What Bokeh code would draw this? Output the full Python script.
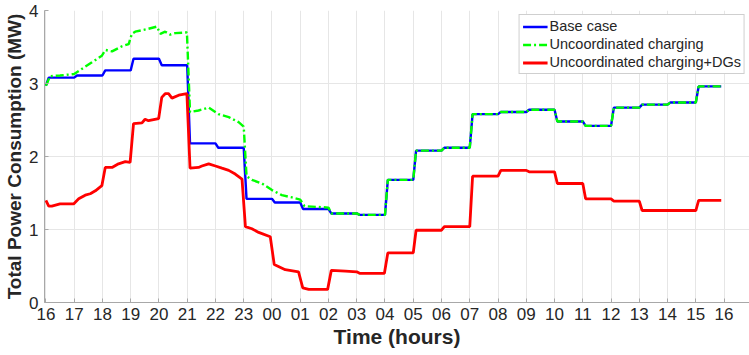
from bokeh.plotting import figure
from bokeh.models import Range1d, FixedTicker, Legend, LegendItem
from bokeh.embed import file_html
from bokeh.resources import INLINE

# hours elapsed since 16:00
tick_positions = list(range(0, 25))
tick_labels = ["16", "17", "18", "19", "20", "21", "22", "23", "00", "01", "02", "03",
               "04", "05", "06", "07", "08", "09", "10", "11", "12", "13", "14", "15", "16"]

base_t = [0, 0.1, 1.0, 1.1, 2.0, 2.1, 3.0, 3.1, 4.0, 4.1, 5.0, 5.1, 6.0, 6.1, 7.0, 7.1,
          8.0, 8.1, 9.0, 9.1, 10.0, 10.1, 11.0, 11.1, 12.0, 12.1, 13.0, 13.1, 14.0, 14.1,
          15.0, 15.1, 16.0, 16.1, 17.0, 17.1, 18.0, 18.1, 19.0, 19.1, 20.0, 20.1, 21.0,
          21.1, 22.0, 22.1, 23.0, 23.1, 23.9]
base_v = [2.97, 3.08, 3.08, 3.11, 3.11, 3.18, 3.18, 3.34, 3.34, 3.25, 3.25, 2.18, 2.18,
          2.12, 2.12, 1.42, 1.42, 1.37, 1.37, 1.28, 1.28, 1.22, 1.22, 1.20, 1.20, 1.68,
          1.68, 2.08, 2.08, 2.12, 2.12, 2.58, 2.58, 2.61, 2.61, 2.64, 2.64, 2.48, 2.48,
          2.42, 2.42, 2.67, 2.67, 2.71, 2.71, 2.74, 2.74, 2.96, 2.96]

unc_t = [0, 0.15, 0.5, 1.0, 1.27, 1.63, 1.98, 2.1, 2.34, 2.69, 2.93, 3.04, 3.16, 3.63,
         3.93, 4.05, 4.22, 4.4, 4.58, 4.99, 5.1, 5.4, 5.76, 6.11, 6.47, 6.82, 7.0, 7.1,
         7.29, 7.65, 8.0, 8.35, 8.71, 9.0, 9.15, 10.0, 10.1, 11.0, 11.1, 12.0, 12.1,
         13.0, 13.1, 14.0, 14.1, 15.0, 15.1, 16.0, 16.1, 17.0, 17.1, 18.0, 18.1, 19.0,
         19.1, 20.0, 20.1, 21.0, 21.1, 22.0, 22.1, 23.0, 23.1, 23.9]
unc_v = [2.97, 3.10, 3.11, 3.13, 3.20, 3.29, 3.38, 3.46, 3.44, 3.51, 3.54, 3.68, 3.71,
         3.75, 3.78, 3.68, 3.71, 3.67, 3.69, 3.70, 2.61, 2.63, 2.67, 2.58, 2.54, 2.47,
         2.41, 1.73, 1.68, 1.63, 1.54, 1.47, 1.44, 1.41, 1.32, 1.30, 1.22, 1.22, 1.20,
         1.20, 1.68, 1.68, 2.08, 2.08, 2.12, 2.12, 2.58, 2.58, 2.61, 2.61, 2.64, 2.64,
         2.48, 2.48, 2.42, 2.42, 2.67, 2.67, 2.71, 2.71, 2.74, 2.74, 2.96, 2.96]

dg_t = [0, 0.1, 0.21, 0.5, 0.98, 1.16, 1.39, 1.57, 1.75, 1.98, 2.1, 2.34, 2.57, 2.81,
        2.98, 3.1, 3.4, 3.51, 3.63, 3.99, 4.1, 4.22, 4.34, 4.46, 4.7, 4.99, 5.1, 5.4,
        5.52, 5.76, 6.0, 6.23, 6.47, 6.7, 6.94, 7.06, 7.29, 7.53, 7.94, 8.08, 8.47, 8.94,
        9.09, 9.3, 9.97, 10.1, 10.6, 11.0, 11.1, 11.98, 12.1, 13.0, 13.1, 14.0, 14.1,
        15.0, 15.1, 16.0, 16.1, 17.0, 17.1, 18.0, 18.1, 19.0, 19.1, 20.0, 20.1, 21.0,
        21.1, 23.0, 23.1, 23.9]
dg_v = [1.40, 1.32, 1.32, 1.35, 1.35, 1.42, 1.47, 1.49, 1.53, 1.60, 1.85, 1.85, 1.90,
        1.93, 1.92, 2.45, 2.46, 2.51, 2.49, 2.52, 2.81, 2.86, 2.86, 2.80, 2.84, 2.86,
        1.84, 1.85, 1.87, 1.90, 1.87, 1.84, 1.81, 1.76, 1.69, 1.04, 1.01, 0.96, 0.90,
        0.52, 0.45, 0.42, 0.20, 0.18, 0.18, 0.44, 0.43, 0.42, 0.40, 0.40, 0.68, 0.68,
        0.99, 0.99, 1.04, 1.04, 1.73, 1.73, 1.81, 1.81, 1.79, 1.79, 1.63, 1.63, 1.42,
        1.42, 1.39, 1.39, 1.26, 1.26, 1.40, 1.40]

FONT = "Liberation Sans"

p = figure(width=749, height=355, output_backend="svg", toolbar_location=None,
           x_range=Range1d(-0.05, 24.9), y_range=Range1d(0, 4),
           min_border_left=44, min_border_right=0, min_border_top=10, min_border_bottom=53)
p.outline_line_color = None
p.background_fill_color = "white"

r_base = p.line(base_t, base_v, line_color="#0000ff", line_width=2.4)
r_unc = p.line(unc_t, unc_v, line_color="#00ff00", line_width=2.4, line_dash="8 3 2 3")
r_dg = p.line(dg_t, dg_v, line_color="#ff0000", line_width=2.8)

for ax in (p.xaxis[0], p.yaxis[0]):
    ax.axis_line_color = "#a8a8a8"
    ax.major_tick_line_color = "#a8a8a8"
    ax.major_tick_in = 4
    ax.major_tick_out = 0
    ax.minor_tick_line_color = None
    ax.major_label_text_font = FONT
    ax.major_label_text_font_size = "17px"
    ax.major_label_text_color = "#262626"
    ax.axis_label_text_font = FONT
    ax.axis_label_text_font_style = "bold"
    ax.axis_label_text_color = "#262626"

p.xaxis.ticker = FixedTicker(ticks=tick_positions)
p.xaxis.major_label_overrides = {t: l for t, l in zip(tick_positions, tick_labels)}
p.xaxis.axis_label = "Time (hours)"
p.xaxis.axis_label_text_font_size = "21px"
p.xaxis.major_label_standoff = 5
p.xaxis.axis_label_standoff = 2

p.yaxis.ticker = FixedTicker(ticks=[0, 1, 2, 3, 4])
p.yaxis.axis_label = "Total Power Consumption (MW)"
p.yaxis.axis_label_text_font_size = "19px"
p.yaxis.major_label_standoff = 6
p.yaxis.axis_label_standoff = 1

p.xgrid.grid_line_color = "#e6e6e6"
p.ygrid.grid_line_color = "#e6e6e6"
p.xgrid.ticker = FixedTicker(ticks=tick_positions)
p.ygrid.ticker = FixedTicker(ticks=[0, 1, 2, 3, 4])

legend = Legend(items=[
    LegendItem(label="Base case", renderers=[r_base]),
    LegendItem(label="Uncoordinated charging", renderers=[r_unc]),
    LegendItem(label="Uncoordinated charging+DGs", renderers=[r_dg]),
], location="top_right")
legend.label_text_font = FONT
legend.label_text_font_size = "14.5px"
legend.label_text_color = "#262626"
legend.label_height = 15
legend.glyph_height = 15
legend.glyph_width = 25
legend.label_standoff = 2
legend.spacing = 2
legend.padding = 3
legend.margin = 4
legend.border_line_color = "#a0a0a0"
legend.border_line_width = 1
legend.background_fill_alpha = 1
p.add_layout(legend)

open("out.html", "w").write(file_html(p, INLINE))
